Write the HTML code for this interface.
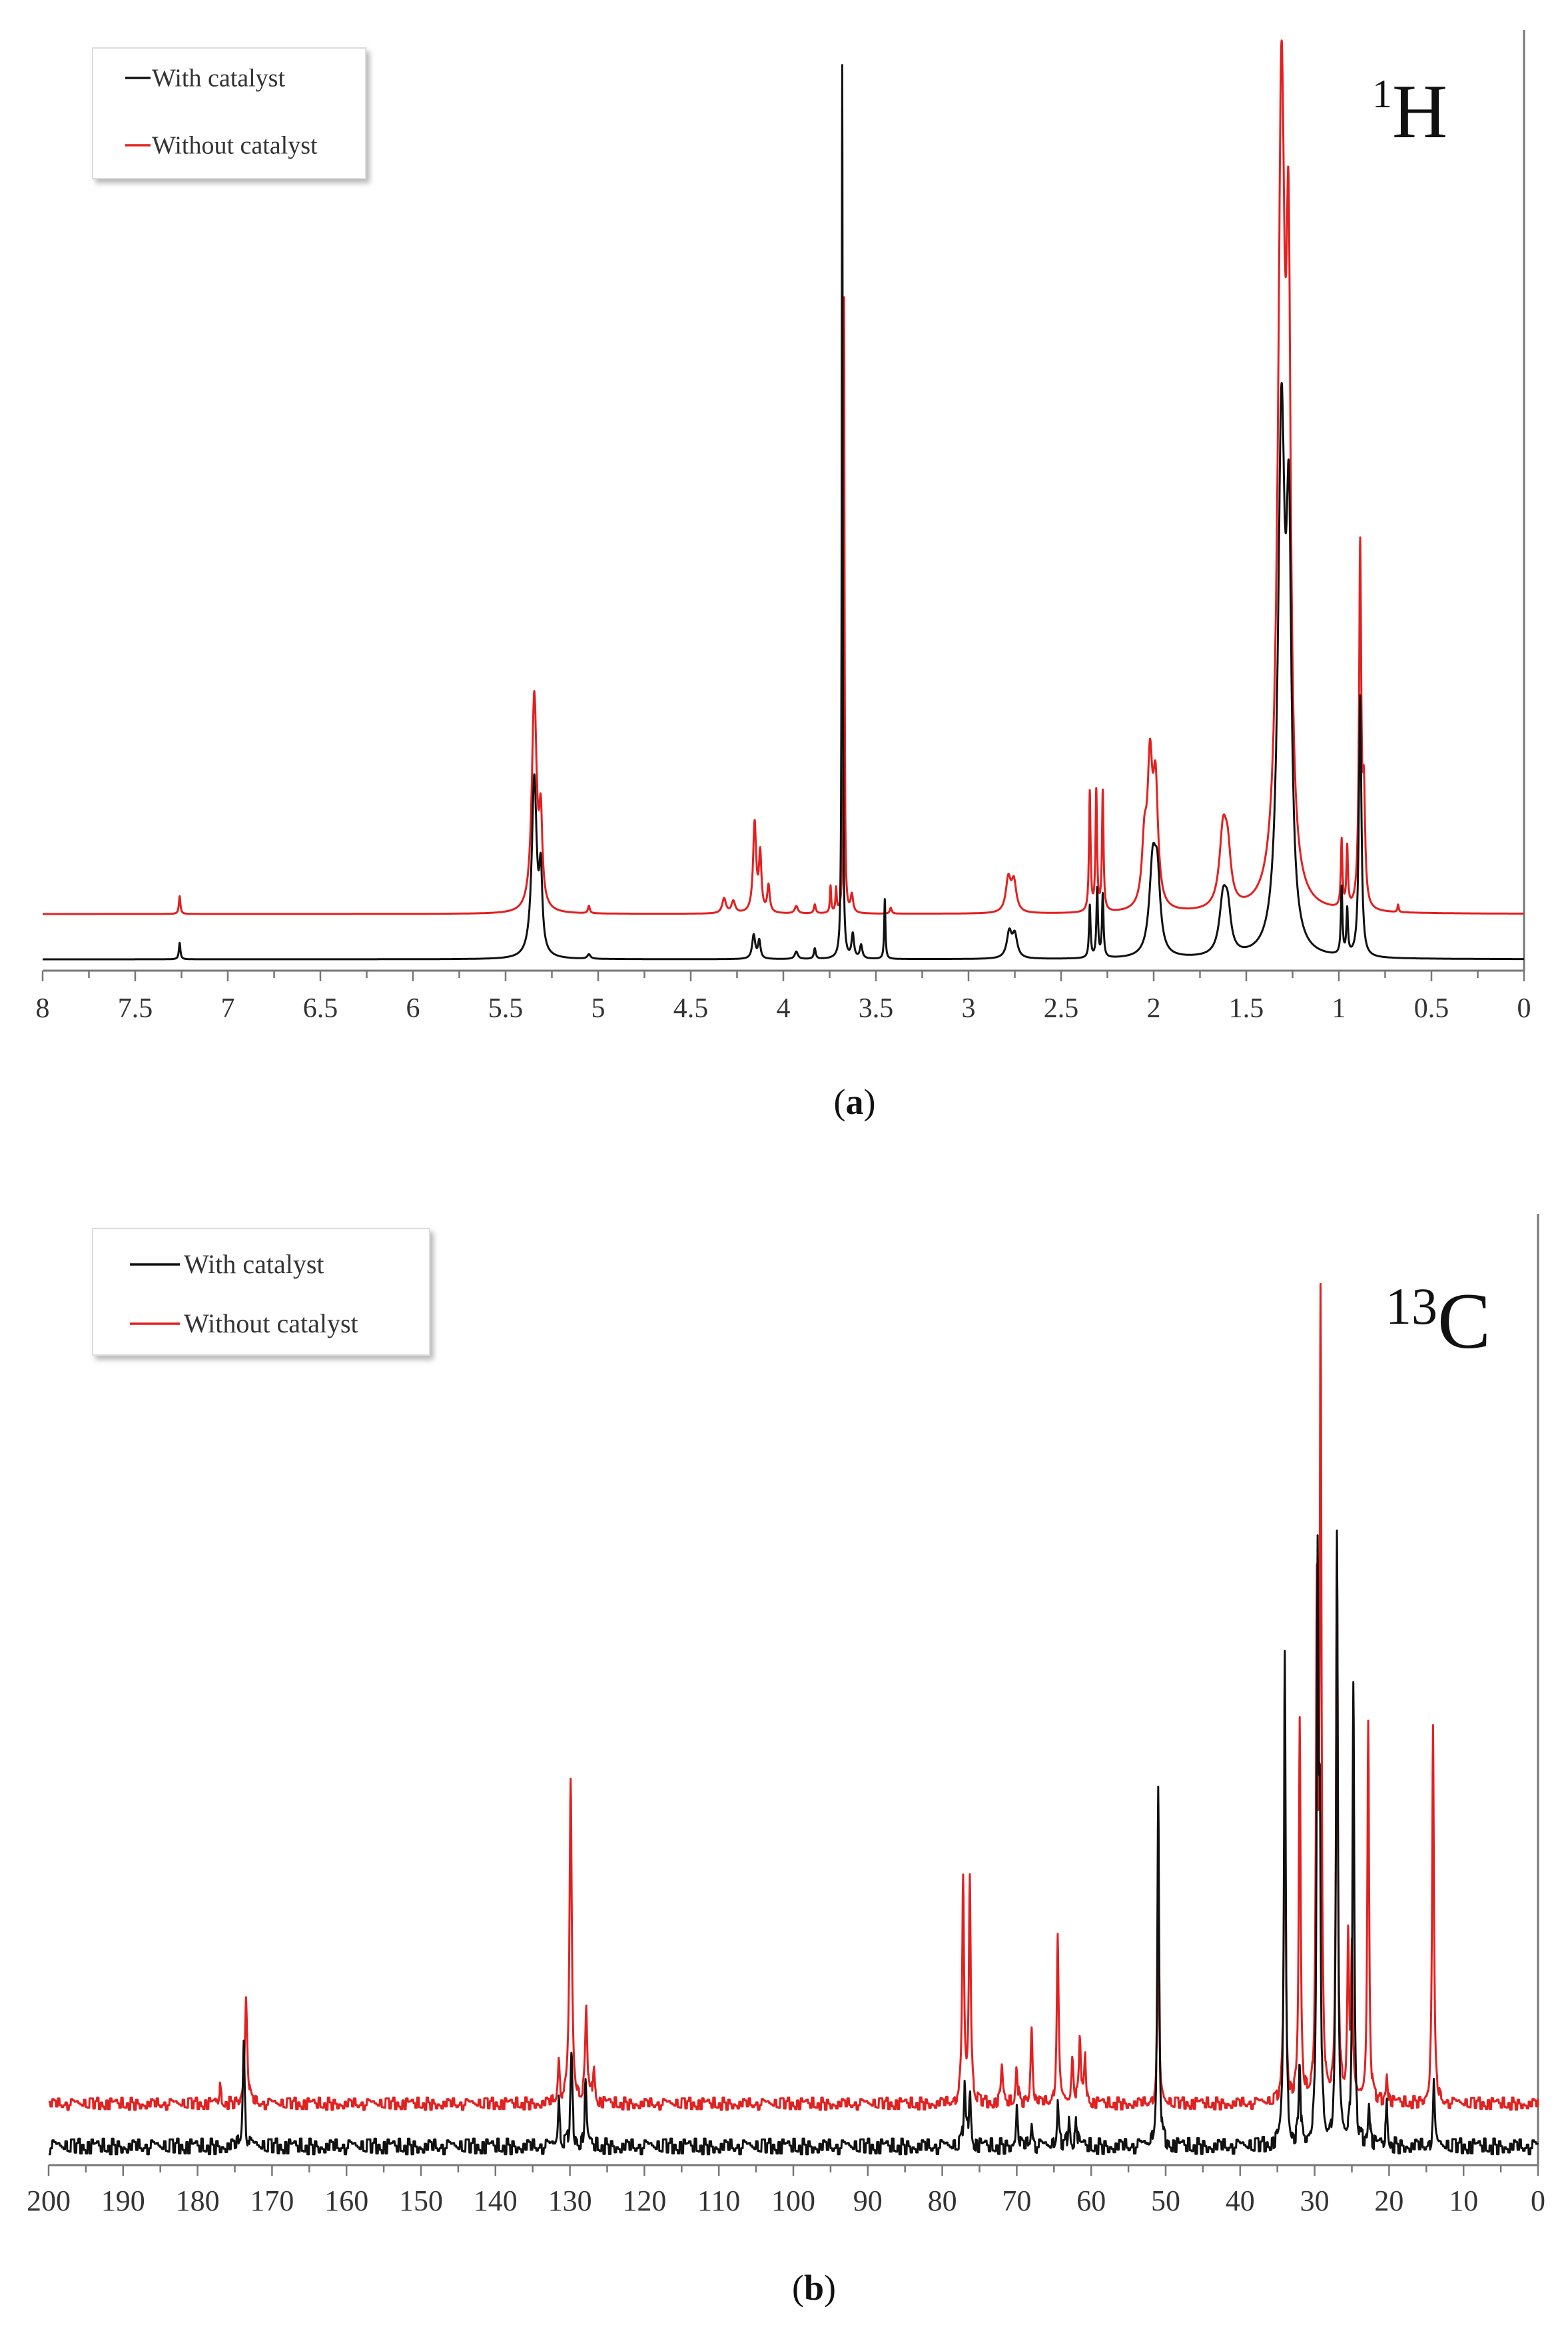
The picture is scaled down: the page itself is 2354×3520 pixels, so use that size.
<!DOCTYPE html>
<html><head><meta charset="utf-8">
<style>
html,body{margin:0;padding:0;background:#fff;}
svg{display:block;}
text{font-family:"Liberation Serif",serif;}
</style></head>
<body>
<svg id="fig" width="2354" height="3520" viewBox="0 0 2354 3520" xmlns="http://www.w3.org/2000/svg">
<defs>
<filter id="sh" x="-10%" y="-10%" width="130%" height="130%"><feDropShadow dx="5" dy="6" stdDeviation="4" flood-color="#888" flood-opacity="0.6"/></filter>
</defs>
<g id="chartA"></g>
<g id="chartB"></g>
</svg>
<script>
// ---------- 1H data (ppm, height, half-width) ----------
const hTicks = [8,7.5,7,6.5,6,5.5,5,4.5,4,3.5,3,2.5,2,1.5,1,0.5,0];
const hTickLabels = ["8","7.5","7","6.5","6","5.5","5","4.5","4","3.5","3","2.5","2","1.5","1","0.5","0"];
const hRedPos    = [7.26,5.345,5.31,5.05,4.32,4.27,4.155,4.125,4.08,3.93,3.83,3.745,3.715,3.672,3.63,3.42,2.785,2.755,2.345,2.31,2.275,2.05,2.02,1.99,1.625,1.60,1.31,1.272,0.985,0.955,0.885,0.865,0.68];
const hRedHeight = [12,145,55,5,10,8,60,38,18,5,6,18,16,412,12,4,22,20,80,80,80,40,90,78,50,30,540,360,45,40,240,70,5];
const hRedWidth  = [0.005,0.016,0.01,0.006,0.012,0.012,0.01,0.008,0.008,0.01,0.006,0.004,0.004,0.003,0.008,0.006,0.016,0.016,0.005,0.005,0.005,0.016,0.016,0.016,0.024,0.02,0.022,0.014,0.005,0.005,0.007,0.008,0.004];
const hBlkPos    = [7.26,5.345,5.31,5.05,4.16,4.13,3.93,3.83,3.682,3.625,3.58,3.452,2.78,2.75,2.345,2.305,2.275,2.005,1.98,1.625,1.60,1.31,1.27,0.985,0.955,0.885];
const hBlkHeight = [11,120,50,3,16,12,5,7,598,16,9,40,17,15,35,46,42,60,45,36,25,350,250,45,30,175];
const hBlkWidth  = [0.005,0.016,0.01,0.01,0.01,0.008,0.01,0.006,0.003,0.008,0.008,0.004,0.016,0.016,0.005,0.005,0.005,0.022,0.018,0.024,0.02,0.022,0.016,0.005,0.005,0.008];

// ---------- 13C data ----------
const cTicks = [200,190,180,170,160,150,140,130,120,110,100,90,80,70,60,50,40,30,20,10,0];
const cTickLabels = ["200","190","180","170","160","150","140","130","120","110","100","90","80","70","60","50","40","30","20","10","0"];
const cRedPos    = [177,173.5,131.5,129.9,127.8,126.8,77.2,76.3,72,70,68,64.5,62.5,61.5,60.8,51,34,32,29.7,29.2,27,25.5,25,22.8,20.3,14.1];
const cRedHeight = [10,70,27,215,60,24,148,150,24,26,52,110,30,44,28,106,238,252,320,520,372,106,100,252,20,255];
const cRedWidth  = [0.15,0.2,0.15,0.18,0.18,0.15,0.15,0.15,0.15,0.15,0.15,0.15,0.15,0.15,0.15,0.15,0.14,0.14,0.14,0.14,0.14,0.14,0.14,0.14,0.14,0.14];
const cBlkPos    = [173.8,131.5,129.8,127.9,77.0,76.3,70,68,64.5,63,62,51,34,32,29.6,29.3,27,24.8,22.7,20.3,14];
const cBlkHeight = [72,30,60,40,40,38,26,16,26,18,18,236,334,56,370,184,406,312,31,26,41];
const cBlkWidth  = [0.15,0.14,0.16,0.16,0.15,0.15,0.15,0.15,0.15,0.15,0.15,0.14,0.14,0.14,0.14,0.14,0.14,0.14,0.14,0.14,0.14];
// baseline noise samples (typical texture amplitude)
const cNoise = [0.3,-0.6,0.8,-0.2,-0.9,0.5,0.1,-0.4,0.9,-0.7,0.2,0.6,-0.8,-0.1,0.7,-0.5,0.4,-0.9,0.0,0.8,-0.3,0.5,-0.6,0.9,-0.2,-0.7,0.3,0.6,-0.4,0.1,-0.8,0.7,-0.1,0.4,-0.5,0.8,-0.9,0.2,0.5,-0.3,0.6,-0.6,-0.2,0.9,-0.4,0.3,-0.7,0.1,0.8,-0.5,0.2,-0.8,0.4];

const NS="http://www.w3.org/2000/svg";
function el(tag, attrs, parent){const e=document.createElementNS(NS,tag);for(const k in attrs)e.setAttribute(k,attrs[k]);parent.appendChild(e);return e;}
function spec(x,pos,h,w){let s=0;for(let i=0;i<pos.length;i++){const d=(x-pos[i])/w[i];s+=h[i]/(1+d*d);}return s;}

function drawChart(g, cfg){
  const xs = v => cfg.x0 + (cfg.xmax - v)/(cfg.xmax - cfg.xmin)*(cfg.x1 - cfg.x0);
  const ra = el('line',{x1:cfg.x1,y1:cfg.axTop,x2:cfg.x1,y2:cfg.axY,stroke:'#777','stroke-width':3},g);
   
  const ax = el('line',{x1:cfg.x0,y1:cfg.axY,x2:cfg.x1,y2:cfg.axY,stroke:'#777','stroke-width':3},g);
   
  const step=(cfg.ticks[0]-cfg.ticks[1]);
  for(let i=0;i<cfg.ticks.length-1;i++){
    const mt=el('line',{x1:xs(cfg.ticks[i]-step/2),y1:cfg.axY,x2:xs(cfg.ticks[i]-step/2),y2:cfg.axY+11,stroke:'#777','stroke-width':2.5},g);
     
  }
  cfg.ticks.forEach((t,i)=>{
    const tk=el('line',{x1:xs(t),y1:cfg.axY,x2:xs(t),y2:cfg.axY+16,stroke:'#777','stroke-width':2.5},g);
     
    const tl=el('text',{x:xs(t),y:cfg.labelY,'font-size':cfg.fs,'text-anchor':'middle',fill:'#333'},g);
    tl.textContent=cfg.labels[i];
     
  });
  const series=[['red',cfg.redBase,cfg.red,'#e32020','without-catalyst-spectrum',0,cfg.noise],['black',cfg.blkBase,cfg.blk,'#111','with-catalyst-spectrum',17,cfg.noise*1.3]];
  series.forEach(([nm,base,s,col,dn,noff,amp])=>{
    let d=''; let i=0;
    for(let v=cfg.xmax; v>=cfg.xmin-1e-9; v-=cfg.dx, i++){
      let y=spec(v,s[0],s[1],s[2]);
      if(amp) y+= amp*cNoise[(Math.floor(i/cfg.nstep)*7+noff)%cNoise.length];
      const py=base - y*cfg.k;
      d+=(d?'L':'M')+xs(v).toFixed(1)+' '+py.toFixed(1);
    }
    const p=el('path',{d:d,fill:'none',stroke:col,'stroke-width':3,'stroke-linejoin':'round'},g);
     
  });
  const L=cfg.leg;
  const lg=el('g',{},g);  
  el('rect',{x:L.x,y:L.y,width:L.w,height:L.h,fill:'#fff',stroke:'#ddd','stroke-width':2,filter:'url(#sh)'},lg);
  [['With catalyst','#111',L.y1,'legend-with-catalyst'],['Without catalyst','#e32020',L.y2,'legend-without-catalyst']].forEach(([t,c,y,dn])=>{
    const e=el('g',{},lg);  
    el('line',{x1:L.lx0,y1:y,x2:L.lx1,y2:y,stroke:c,'stroke-width':3.5},e);
    const tx=el('text',{x:L.tx,y:y+L.fs*0.33,'font-size':L.fs,fill:'#333'},e); tx.textContent=t;
  });
}

drawChart(document.getElementById('chartA'),{
  xmax:8,xmin:0,x0:64,x1:2288,axY:1457,axTop:45,labelY:1527,fs:42,ticks:hTicks,labels:hTickLabels,
  redBase:1372,blkBase:1440,k:2.243,dx:0.001,noise:0,nstep:1,
  red:[hRedPos,hRedHeight,hRedWidth],blk:[hBlkPos,hBlkHeight,hBlkWidth],
  leg:{x:139,y:72,w:410,h:196,y1:117,y2:218,lx0:188,lx1:226,tx:228,fs:38}
});
drawChart(document.getElementById('chartB'),{
  xmax:200,xmin:0,x0:73,x1:2309,axY:3250,axTop:1822,labelY:3318,fs:44,ticks:cTicks,labels:cTickLabels,
  redBase:3158,blkBase:3222,k:2.243,dx:0.05,noise:4.5,nstep:5,
  red:[cRedPos,cRedHeight,cRedWidth],blk:[cBlkPos,cBlkHeight,cBlkWidth],
  leg:{x:139,y:1844,w:506,h:190,y1:1898,y2:1987,lx0:195,lx1:270,tx:276,fs:40}
});
</script>
<svg style="position:absolute;left:0;top:0" width="2354" height="3520">
  <text x="2060" y="206" font-family="Liberation Serif, serif" font-size="115" fill="#111"><tspan font-size="60" dy="-45">1</tspan><tspan dy="45">H</tspan></text>
  <text x="2080" y="2023" font-family="Liberation Serif, serif" font-size="120" fill="#111"><tspan font-size="78" dy="-36">13</tspan><tspan dy="36">C</tspan></text>
  <text x="1283" y="1672" text-anchor="middle" font-family="Liberation Serif, serif" font-size="54" fill="#111">(<tspan font-weight="bold">a</tspan>)</text>
  <text x="1222" y="3452" text-anchor="middle" font-family="Liberation Serif, serif" font-size="54" fill="#111">(<tspan font-weight="bold">b</tspan>)</text>
</svg>
</body></html>
